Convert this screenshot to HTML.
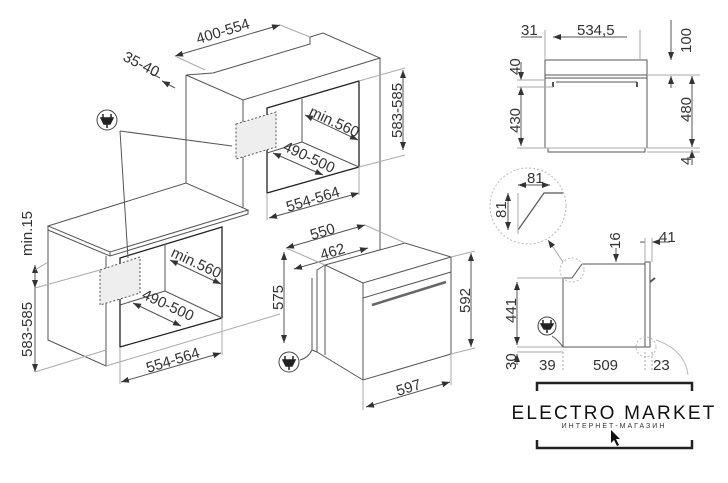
<!DOCTYPE html>
<html><head><meta charset="utf-8"><style>
html,body{margin:0;padding:0;background:#fff;width:728px;height:483px;overflow:hidden}
svg{display:block}
text{font-family:"Liberation Sans",sans-serif;fill:#333;font-size:15px}
</style></head><body>
<svg width="728" height="483" viewBox="0 0 728 483" xmlns="http://www.w3.org/2000/svg">
<defs>
<marker id="a" markerWidth="8" markerHeight="6" refX="8" refY="3" orient="auto-start-reverse" markerUnits="userSpaceOnUse"><path d="M0,0 L8,3 L0,6z" fill="#333"/></marker>
</defs>
<g stroke="#555" stroke-width="1" fill="none">
<path d="M186,75 L243,100 L380,58 L323,33 L310,37 L310,44 L213,73 L186,75 Z" fill="#fff"/>
<path d="M186,75 L186,183 M243,100 L243,212 M380,58 L380,250"/>
<path d="M267,108 L359,81 L359,167 L267,193 Z" stroke="#222" stroke-width="1.3"/>
<path d="M302,99 L302,142 L359,167 M302,142 L267,153"/>
<path d="M236,124 L276,112 L276,147 L236,159 Z" fill="#eee" stroke-dasharray="2,2"/>
<path d="M48,226 L186,183 L248,210 L110,252 Z" fill="#fff"/>
<path d="M48,226 L48,230 L110,256 L248,214 L248,210 M110,252 L110,256"/>
<path d="M48,230 L48,340 L106,366 L106,256"/>
<path d="M120,258 L222,227 L222,318 L120,347 Z" stroke="#222" stroke-width="1.3"/>
<path d="M165,244 L165,291 L222,318 M165,291 L120,305"/>
<path d="M100,270 L140,257 L140,293 L100,305 Z" fill="#eee" stroke-dasharray="2,2"/>
<path d="M120,131 L232,146 M120,131 L128,258"/>
<path d="M325,265 L405,243 L451,257 L363,283 Z" fill="#fff"/>
<path d="M363,283 L363,380 L451,354 L451,257 M325,265 L317,270 L317,352 L363,380 M325,265 L325,355"/>
<path d="M312,278 L312,350 L317,352"/>
<path d="M363,298 L451,272"/>
<path d="M372,305 L446,282" stroke-width="2.5" stroke="#666"/>
<path d="M312,350 Q308,358 300,360"/>
<path d="M175,56 L280,25" marker-start="url(#a)" marker-end="url(#a)"/>
<path d="M280,25 L310,37 M175,56 L205,70" stroke="#aaa"/>
<path d="M150,73 L160,78 M175,88 L162,81" marker-end="url(#a)"/>
<path d="M403,70 L403,150" marker-start="url(#a)" marker-end="url(#a)"/>
<path d="M359,81 L405,68 M359,167 L405,155" stroke="#aaa"/>
<path d="M305,115 L358,140" marker-start="url(#a)" marker-end="url(#a)"/>
<path d="M273,153 L323,175" marker-start="url(#a)" marker-end="url(#a)"/>
<path d="M269,218 L359,193" marker-start="url(#a)" marker-end="url(#a)"/>
<path d="M267,193 L267,220 M359,167 L359,195" stroke="#aaa"/>
<path d="M35,265 L35,372" marker-start="url(#a)" marker-end="url(#a)"/>
<path d="M35,275 L35,288" marker-end="url(#a)"/>
<path d="M35,270 L48,262 M35,372 L106,350 M35,288 L100,270" stroke="#aaa"/>
<path d="M170,260 L221,284" marker-start="url(#a)" marker-end="url(#a)"/>
<path d="M133,303 L181,326" marker-start="url(#a)" marker-end="url(#a)"/>
<path d="M121,382 L221,353" marker-start="url(#a)" marker-end="url(#a)"/>
<path d="M120,347 L120,384 M222,318 L222,355 M106,366 L280,314" stroke="#aaa"/>
<path d="M286,248 L365,225" marker-start="url(#a)" marker-end="url(#a)"/>
<path d="M294,269 L368,248" marker-start="url(#a)" marker-end="url(#a)"/>
<path d="M365,225 L405,243 M286,248 L325,265" stroke="#aaa"/>
<path d="M284,252 L284,343" marker-start="url(#a)" marker-end="url(#a)"/>
<path d="M471,253 L471,347" marker-start="url(#a)" marker-end="url(#a)"/>
<path d="M451,257 L475,251 M451,354 L475,348" stroke="#aaa"/>
<path d="M366,407 L450,382" marker-start="url(#a)" marker-end="url(#a)"/>
<path d="M363,380 L363,410 M451,354 L451,385" stroke="#aaa"/>
<rect x="545" y="60" width="102" height="88" fill="#fff"/>
<path d="M545,75 L647,75 M545,78 L647,78 M556,82 L637,82" />
<path d="M553,82 L553,87 M637,82 L637,87" stroke-width="2"/>
<path d="M548,148 L548,152 L645,152 L645,148"/>
<path d="M521,37 L542,37 M627,37 L553,37" marker-end="url(#a)"/>
<path d="M545,30 L545,60 M640,30 L640,60" stroke="#aaa"/>
<path d="M671,20 L671,60" marker-end="url(#a)"/>
<path d="M671,88 L671,76" marker-end="url(#a)"/>
<path d="M521,62 L521,80" marker-end="url(#a)"/>
<path d="M521,146 L521,87" marker-end="url(#a)" marker-start="url(#a)"/>
<path d="M692,76 L692,147" marker-start="url(#a)" marker-end="url(#a)"/>
<path d="M692,165 L692,150" marker-end="url(#a)"/>
<path d="M517,80 L545,80 M517,87 L553,87 M517,148 L700,148 M647,75 L700,75 M647,152 L700,152" stroke="#aaa"/>
<circle cx="528" cy="206" r="38" stroke="#bbb" stroke-dasharray="2,2"/>
<path d="M518,230 L544,193 L563,193" stroke-width="1.2"/>
<path d="M518,193 L518,234" stroke="#aaa"/>
<path d="M518,185 L550,185" marker-start="url(#a)" marker-end="url(#a)"/>
<path d="M508,193 L508,230" marker-start="url(#a)" marker-end="url(#a)"/>
<path d="M555,250 L548,240" marker-end="url(#a)" stroke="#aaa"/>
<path d="M563,262 L555,250" stroke="#aaa"/>
<path d="M563,278 L572,278 L582,264 L645,264 L645,347 L563,347 Z" fill="#fff"/>
<rect x="645" y="262" width="5" height="85"/>
<path d="M650,282 L655,278" stroke-width="2"/>
<circle cx="572" cy="270" r="12" stroke="#bbb" stroke-dasharray="2,2"/>
<circle cx="646" cy="347" r="10" stroke="#bbb" stroke-dasharray="2,2"/>
<path d="M656,340 Q685,350 688,375" stroke="#bbb"/>
<path d="M517,278 L563,278 M517,347 L563,347 M517,352 L563,352" stroke="#aaa"/>
<path d="M517,282 L517,345" marker-start="url(#a)" marker-end="url(#a)"/>
<path d="M517,365 L517,354" marker-end="url(#a)"/>
<path d="M616,248 L616,262" marker-end="url(#a)"/>
<path d="M640,242 L645,242 M670,242 L652,242" marker-end="url(#a)"/>
<path d="M645,238 L645,262 M652,238 L652,262" stroke="#aaa"/>
<path d="M563,352 L563,370 M645,352 L645,370 M652,352 L652,370" stroke="#aaa" stroke-dasharray="2,2"/>
<path d="M552,336 Q558,340 563,347" />
<path d="M537,391 L537,383 L692,383 L692,391 M537,440 L537,448 L692,448 L692,440" stroke="#222" stroke-width="2.5"/>
</g>
<g>
<circle cx="107" cy="120" r="10" fill="#fff" stroke="#444"/>
<circle cx="289" cy="362" r="10" fill="#fff" stroke="#444"/>
<circle cx="547" cy="326" r="9" fill="#fff" stroke="#444"/>
<path d="M103,114 L103,118 M111,114 L111,118 M101,118 L113,118 L110,124 L104,124Z M107,124 L107,128" stroke="#222" stroke-width="1.5" fill="#222"/>
<path d="M285,356 L285,360 M293,356 L293,360 M283,360 L295,360 L292,366 L286,366Z M289,366 L289,370" stroke="#222" stroke-width="1.5" fill="#222"/>
<path d="M543,320 L543,324 M551,320 L551,324 M541,324 L553,324 L550,329 L544,329Z M547,329 L547,333" stroke="#222" stroke-width="1.5" fill="#222"/>
</g>
<g>
<text x="198" y="44" transform="rotate(-17 198 44)">400-554</text>
<text x="122" y="60" transform="rotate(27 122 60)">35-40</text>
<text x="308" y="115" transform="rotate(25 308 115)">min.560</text>
<text x="282" y="150" transform="rotate(25 282 150)">490-500</text>
<text x="288" y="212" transform="rotate(-17 288 212)">554-564</text>
<text x="402" y="138" transform="rotate(-90 402 138)">583-585</text>
<text x="32" y="256" transform="rotate(-90 32 256)">min.15</text>
<text x="32" y="357" transform="rotate(-90 32 357)">583-585</text>
<text x="170" y="256" transform="rotate(25 170 256)">min.560</text>
<text x="141" y="298" transform="rotate(25 141 298)">490-500</text>
<text x="148" y="373" transform="rotate(-17 148 373)">554-564</text>
<text x="312" y="240" transform="rotate(-17 312 240)">550</text>
<text x="322" y="260" transform="rotate(-17 322 260)">462</text>
<text x="283" y="310" transform="rotate(-90 283 310)">575</text>
<text x="470" y="313" transform="rotate(-90 470 313)">592</text>
<text x="398" y="396" transform="rotate(-17 398 396)">597</text>
<text x="521" y="35">31</text>
<text x="577" y="35">534,5</text>
<text x="691" y="53" transform="rotate(-90 691 53)">100</text>
<text x="520" y="75" transform="rotate(-90 520 75)">40</text>
<text x="520" y="133" transform="rotate(-90 520 133)">430</text>
<text x="691" y="122" transform="rotate(-90 691 122)">480</text>
<text x="691" y="165" transform="rotate(-90 691 165)">4</text>
<text x="527" y="183">81</text>
<text x="506" y="218" transform="rotate(-90 506 218)">81</text>
<text x="620" y="249" transform="rotate(-90 620 249)">16</text>
<text x="659" y="242">41</text>
<text x="516" y="323" transform="rotate(-90 516 323)">441</text>
<text x="516" y="370" transform="rotate(-90 516 370)">30</text>
<text x="539" y="370">39</text>
<text x="593" y="370">509</text>
<text x="653" y="370">23</text>
<text x="614" y="419" text-anchor="middle" style="font-size:19px;letter-spacing:2.2px;fill:#111">ELECTRO MARKET</text>
<text x="614" y="428" text-anchor="middle" style="font-size:7px;letter-spacing:2px;fill:#333">ИНТЕРНЕТ-МАГАЗИН</text>
</g>
<path d="M611,430 L611,443 L614,440 L617,446 L619,445 L616,439 L620,439 Z" fill="#111"/>
</svg>
</body></html>
